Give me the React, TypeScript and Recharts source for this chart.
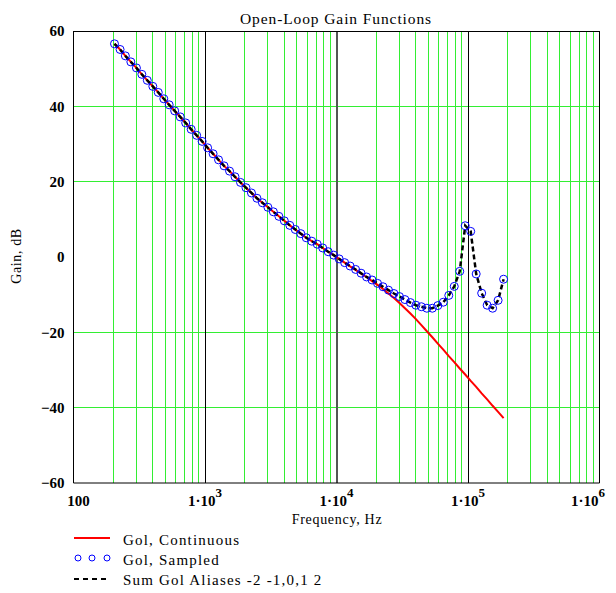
import { ComposedChart, Line, XAxis, YAxis, ReferenceLine } from "recharts";

// frequency points (Hz), roughly 24 per decade
const freqs = [
  205, 226, 248, 273, 301, 331, 364, 401, 441, 486, 534, 588, 648, 713, 785, 864, 951, 1047, 1152, 1268,
  1396, 1537, 1691, 1862, 2049, 2256, 2483, 2733, 3008, 3311, 3645, 4012, 4416, 4861, 5351, 5890, 6483,
  7136, 7855, 8646, 9517, 10476, 11531, 12693, 13971, 15379, 16928, 18633, 20510, 22576, 24850, 27354,
  30109, 33142, 36480, 40155, 44200, 48653, 53553, 58948, 64886, 71422, 78616, 86535, 95252, 104847,
  115408, 127034, 139830, 153915, 169420, 186486,
];

const golContinuous = [
  56.6, 55.1, 53.4, 51.8, 50.2, 48.5, 46.9, 45.3, 43.7, 42.0, 40.4, 38.8, 37.2, 35.6, 33.9, 32.3, 30.7,
  29.0, 27.4, 25.8, 24.2, 22.8, 21.3, 19.8, 18.4, 17.0, 15.6, 14.4, 13.2, 12.0, 10.8, 9.6, 8.4, 7.3, 6.2,
  5.1, 4.2, 3.4, 2.4, 1.4, 0.5, -0.5, -1.5, -2.5, -3.4, -4.4, -5.3, -6.4, -7.4, -8.5, -9.7, -10.9, -12.2,
  -13.6, -15.0, -16.5, -18.1, -19.7, -21.3, -23.0, -24.6, -26.3, -27.9, -29.6, -31.2, -32.9, -34.5,
  -36.2, -37.8, -39.5, -41.1, -42.8,
];

const golSampled = [
  56.6, 55.1, 53.4, 51.8, 50.2, 48.5, 46.9, 45.3, 43.7, 42.0, 40.4, 38.8, 37.2, 35.6, 33.9, 32.3, 30.7,
  29.0, 27.4, 25.8, 24.2, 22.8, 21.3, 19.8, 18.4, 17.0, 15.6, 14.4, 13.2, 12.0, 10.8, 9.6, 8.4, 7.3, 6.2,
  5.1, 4.2, 3.4, 2.4, 1.4, 0.5, -0.5, -1.5, -2.4, -3.3, -4.3, -5.3, -6.1, -7.0, -7.9, -8.8, -9.7, -10.5,
  -11.3, -12.1, -12.8, -13.2, -13.6, -13.6, -12.9, -12.0, -10.2, -7.8, -3.8, 8.3, 6.8, -4.5, -9.6,
  -12.8, -13.6, -11.5, -5.9,
];

// alias sum lies on top of the sampled points
const golAliasSum = [...golSampled];

const xTicks = [100, 1e3, 1e4, 1e5, 1e6];
const xTickExp = ["", "3", "4", "5", "6"];
const yTicks = [-60, -40, -20, 0, 20, 40, 60];
const minorFreqs = [
  200, 300, 400, 500, 600, 700, 800, 900,
  2000, 3000, 4000, 5000, 6000, 7000, 8000, 9000,
  20000, 30000, 40000, 50000, 60000, 70000, 80000, 90000,
  200000, 300000, 400000, 500000, 600000, 700000, 800000, 900000,
];
const gridGains = [-40, -20, 20, 40];

const data = freqs.map((f, i) => ({
  f,
  cont: golContinuous[i],
  sampled: golSampled[i],
  alias: golAliasSum[i],
}));

const serif = "'Liberation Serif', 'Times New Roman', serif";
const green = "#33ee33";

function FreqTick({ x, y, payload, index }: any) {
  const exp = xTickExp[index];
  if (!exp) {
    return (
      <text x={x + 5} y={y + 15} textAnchor="middle" fontFamily={serif} fontWeight="bold" fontSize={15} fill="#000">
        100
      </text>
    );
  }
  return (
    <text x={x} y={y + 15} textAnchor="middle" fontFamily={serif} fontWeight="bold" fontSize={15} fill="#000">
      <tspan>1·10</tspan>
      <tspan dy={-9} fontSize={13}>{exp}</tspan>
    </text>
  );
}

export default function App() {
  return (
    <div style={{ position: "absolute", left: 0, top: 0, width: 616, height: 593, background: "#fff", fontFamily: serif }}>
      <div style={{ position: "absolute", left: 0, top: 10, width: 672, textAlign: "center", fontSize: 15.5, letterSpacing: 0.9 }}>
        Open-Loop Gain Functions
      </div>
      <div
        style={{
          position: "absolute",
          left: 17,
          top: 256,
          transform: "translate(-50%, -50%) rotate(-90deg)",
          fontSize: 14,
          letterSpacing: 0.6,
          whiteSpace: "nowrap",
        }}
      >
        Gain, dB
      </div>
      <ComposedChart width={616} height={593} data={data} margin={{ top: 31, right: 16.5, left: 13.5, bottom: 80 }}>
        <XAxis
          dataKey="f"
          type="number"
          scale="log"
          domain={[100, 1e6]}
          ticks={xTicks}
          tick={<FreqTick />}
          tickLine={false}
          axisLine={{ stroke: "#000", strokeWidth: 1 }}
          height={30}
          allowDataOverflow
        />
        <YAxis
          type="number"
          domain={[-60, 60]}
          ticks={yTicks}
          width={60}
          tickLine={false}
          axisLine={{ stroke: "#000", strokeWidth: 1 }}
          tickFormatter={(v: number) => (v < 0 ? "\u2212" + Math.abs(v) : String(v))}
          tick={{ fontFamily: serif, fontWeight: "bold", fontSize: 15, fill: "#000", dx: -1 }}
          allowDataOverflow
        />
        {minorFreqs.map((v) => (
          <ReferenceLine key={"v" + v} x={v} stroke={green} strokeWidth={1} shapeRendering="crispEdges" />
        ))}
        {gridGains.map((v) => (
          <ReferenceLine key={"h" + v} y={v} stroke={green} strokeWidth={1} shapeRendering="crispEdges" />
        ))}
        <ReferenceLine x={1e3} stroke="#000" strokeWidth={1} shapeRendering="crispEdges" />
        <ReferenceLine x={1e4} stroke="#555" strokeWidth={2} shapeRendering="crispEdges" />
        <ReferenceLine x={1e5} stroke="#000" strokeWidth={1} shapeRendering="crispEdges" />
        <ReferenceLine x={1e6} stroke="#000" strokeWidth={1} shapeRendering="crispEdges" />
        <ReferenceLine y={60} stroke="#000" strokeWidth={1} shapeRendering="crispEdges" />
        <Line
          dataKey="sampled"
          stroke="none"
          dot={{ r: 4, stroke: "#0000ff", strokeWidth: 1, fill: "none" }}
          isAnimationActive={false}
        />
        <Line dataKey="cont" stroke="#ff0000" strokeWidth={2} dot={false} isAnimationActive={false} />
        <Line
          dataKey="alias"
          stroke="#000"
          strokeWidth={2.5}
          strokeDasharray="5 3"
          dot={false}
          isAnimationActive={false}
        />
      </ComposedChart>
      <div style={{ position: "absolute", left: 0, top: 512, width: 674, textAlign: "center", fontSize: 14, letterSpacing: 0.7 }}>
        Frequency, Hz
      </div>
      <div style={{ position: "absolute", left: 74, top: 530, fontSize: 15, letterSpacing: 1.2, lineHeight: "20px" }}>
        <div style={{ display: "flex", alignItems: "center", height: 20 }}>
          <svg width={49} height={20}>
            <line x1={0} y1={8} x2={36} y2={8} stroke="#ff0000" strokeWidth={2} />
          </svg>
          <span>Gol, Continuous</span>
        </div>
        <div style={{ display: "flex", alignItems: "center", height: 20 }}>
          <svg width={49} height={20}>
            <circle cx={4} cy={8} r={3} stroke="#0000ff" fill="none" strokeWidth={1} />
            <circle cx={18} cy={8} r={3} stroke="#0000ff" fill="none" strokeWidth={1} />
            <circle cx={33} cy={8} r={3} stroke="#0000ff" fill="none" strokeWidth={1} />
          </svg>
          <span>Gol, Sampled</span>
        </div>
        <div style={{ display: "flex", alignItems: "center", height: 20 }}>
          <svg width={49} height={20}>
            <line x1={0} y1={9} x2={34} y2={9} stroke="#000" strokeWidth={2} strokeDasharray="5 4" />
          </svg>
          <span>Sum Gol Aliases -2 -1,0,1 2</span>
        </div>
      </div>
    </div>
  );
}
